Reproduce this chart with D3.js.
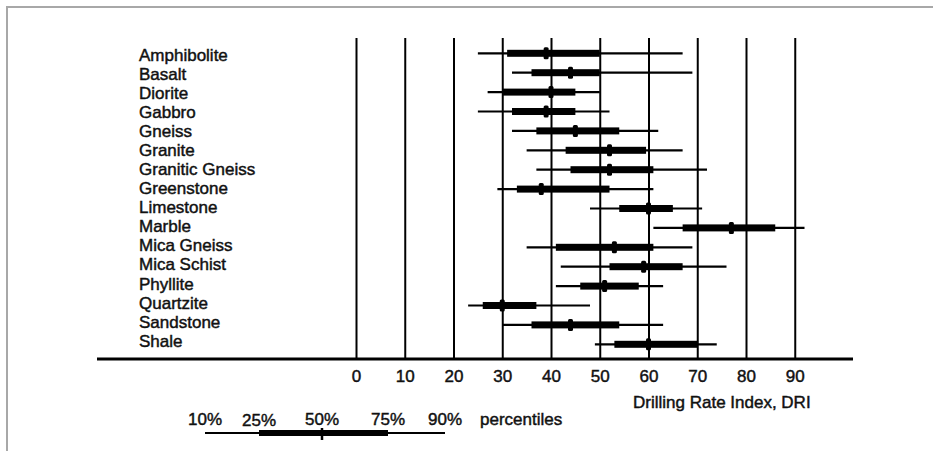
<!DOCTYPE html>
<html>
<head>
<meta charset="utf-8">
<script src="https://cdn.jsdelivr.net/npm/d3@7"></script>
<style>
  body { margin: 0; background: #fff; }
  text { font-family: Arial, "Liberation Sans", sans-serif; font-size: 17px; fill: #111; stroke: #111; stroke-width: 0.45px; }
</style>
</head>
<body>
<div id="chart"></div>
<script>
// rock types, top to bottom
const rocks = ["Amphibolite", "Basalt", "Diorite", "Gabbro", "Gneiss", "Granite", "Granitic Gneiss",
               "Greenstone", "Limestone", "Marble", "Mica Gneiss", "Mica Schist", "Phyllite",
               "Quartzite", "Sandstone", "Shale"];

// DRI percentiles per rock
const p10 = [25, 32, 27, 25, 32, 35, 37, 29, 48, 61, 35, 42, 41, 23, 30, 49];
const p25 = [31, 36, 30, 32, 37, 43, 44, 33, 54, 67, 41, 52, 46, 26, 36, 53];
const p50 = [39, 44, 40, 39, 45, 52, 52, 38, 60, 77, 53, 59, 51, 30, 44, 60];
const p75 = [50, 50, 45, 45, 54, 59.5, 61, 52, 65, 86, 61, 67, 58, 37, 54, 70];
const p90 = [67, 69, 50, 52, 62, 67, 72, 61, 71, 92, 69, 76, 63, 48, 63, 74];

const ticks = [0, 10, 20, 30, 40, 50, 60, 70, 80, 90];

// legend key
const legendLabels = ["10%", "25%", "50%", "75%", "90%"];
const legendSample = [0, 18, 39, 61, 80];

const width = 933, height = 451;
const svg = d3.select("#chart").append("svg")
    .attr("width", width)
    .attr("height", height);

// frame (top and left edge only)
svg.append("path")
    .attr("d", `M7,451 V7 H933`)
    .attr("fill", "none")
    .attr("stroke", "#a8a8a8")
    .attr("stroke-width", 2);

const x = d3.scaleLinear().domain([0, 90]).range([356, 794.75]);
const yRow = d3.scalePoint().domain(rocks).range([53.3, 344.3]);
const yLabel = d3.scalePoint().domain(rocks).range([60.7, 346.7]);

const plotTop = 38, plotBase = 359;

// gridlines + tick labels
const axis = d3.axisBottom(x)
    .tickValues(ticks)
    .tickSizeInner(-(plotBase - plotTop))
    .tickSizeOuter(0)
    .tickPadding(11)
    .tickFormat(d3.format("d"));

const gAxis = svg.append("g")
    .attr("transform", `translate(0,${plotBase})`)
    .call(axis);
gAxis.select(".domain").remove();
gAxis.selectAll(".tick line").attr("stroke", "#000").attr("stroke-width", 2);
gAxis.selectAll(".tick text")
    .attr("font-size", null)
    .attr("font-family", null)
    .attr("fill", null);
gAxis.attr("font-size", null).attr("font-family", null);

// baseline
svg.append("line")
    .attr("x1", 97).attr("x2", 853)
    .attr("y1", plotBase).attr("y2", plotBase)
    .attr("stroke", "#000")
    .attr("stroke-width", 3);

// row labels
svg.append("g").selectAll("text")
    .data(rocks)
    .join("text")
    .attr("x", 139)
    .attr("y", d => yLabel(d))
    .text(d => d);

// box plots
const rows = svg.append("g").selectAll("g")
    .data(rocks.map((r, i) => ({ r, a: p10[i], b: p25[i], m: p50[i], c: p75[i], d: p90[i] })))
    .join("g")
    .attr("transform", d => `translate(0,${yRow(d.r)})`);

rows.append("line")
    .attr("x1", d => x(d.a)).attr("x2", d => x(d.d))
    .attr("stroke", "#000").attr("stroke-width", 2.2);

rows.append("rect")
    .attr("x", d => x(d.b))
    .attr("width", d => x(d.c) - x(d.b))
    .attr("y", -3.5).attr("height", 7)
    .attr("fill", "#000");

rows.append("rect")
    .attr("x", d => x(d.m) - 2.5)
    .attr("width", 5)
    .attr("y", -6).attr("height", 12)
    .attr("rx", 1.5)
    .attr("fill", "#000");

// axis title
svg.append("text")
    .attr("x", 633).attr("y", 408)
    .text("Drilling Rate Index, DRI");

// legend
const lx = d3.scaleLinear().domain([0, 80]).range([205, 445]);
const lg = svg.append("g");
lg.selectAll("text.pct")
    .data(legendLabels)
    .join("text")
    .attr("class", "pct")
    .attr("x", (d, i) => lx(legendSample[i]))
    .attr("y", (d, i) => i === 1 ? 426 : 424.5)
    .attr("text-anchor", "middle")
    .text(d => d);
lg.append("text")
    .attr("x", 480).attr("y", 424.5)
    .text("percentiles");
lg.append("line")
    .attr("x1", lx(legendSample[0])).attr("x2", lx(legendSample[4]))
    .attr("y1", 433).attr("y2", 433)
    .attr("stroke", "#000").attr("stroke-width", 2.2);
lg.append("rect")
    .attr("x", lx(legendSample[1]))
    .attr("width", lx(legendSample[3]) - lx(legendSample[1]))
    .attr("y", 430).attr("height", 6)
    .attr("fill", "#000");
lg.append("line")
    .attr("x1", lx(legendSample[2])).attr("x2", lx(legendSample[2]))
    .attr("y1", 428).attr("y2", 440)
    .attr("stroke", "#000").attr("stroke-width", 2.5);
</script>
</body>
</html>
